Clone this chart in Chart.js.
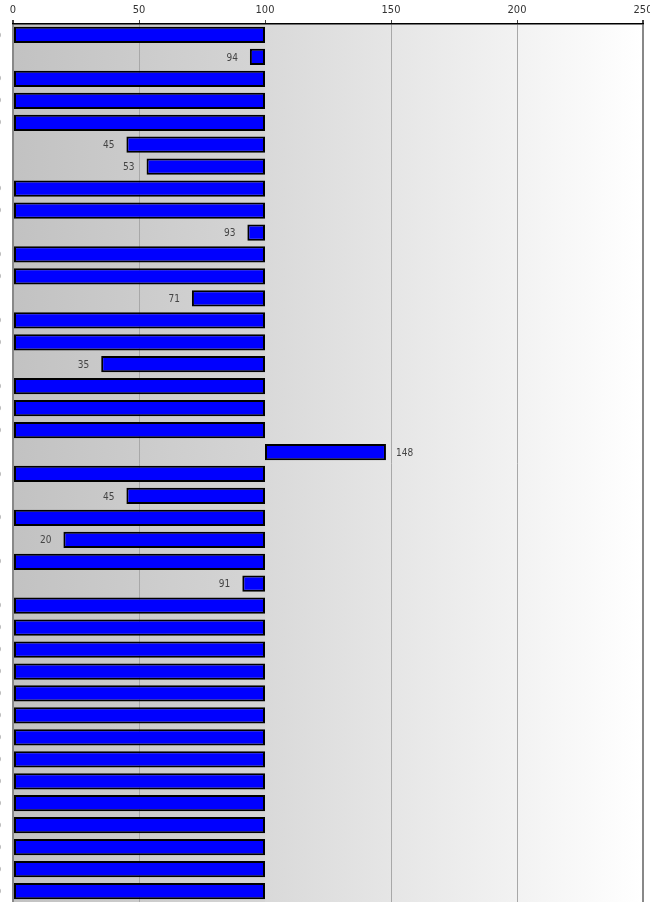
<!DOCTYPE html>
<html>
<head>
<meta charset="UTF-8">
<title>Index chart</title>
<style>
    body { margin: 0; background: #ffffff; }
    .wrap { width: 650px; height: 902px; position: relative; }
</style>
</head>
<body>
<div class="wrap"><canvas id="chart"></canvas></div>
<script src="https://cdn.jsdelivr.net/npm/chart.js@4.4.3/dist/chart.umd.min.js"></script>
<script>
// 40 rows, each bar runs from its value to the base of 100
const categories = Array.from({ length: 40 }, (_, i) => 'R' + (i + 1));
const values = [
    0, 94, 0, 0, 0, 45, 53, 0, 0, 93,
    0, 0, 71, 0, 0, 35, 0, 0, 0, 148,
    0, 45, 0, 20, 0, 91, 0, 0, 0, 0,
    0, 0, 0, 0, 0, 0, 0, 0, 0, 0
];
const baseValue = 100;
const xTicks = [0, 50, 100, 150, 200, 250];

const FONT = '"DejaVu Sans Condensed", "DejaVu Sans", sans-serif';

// background bands: darker grey up to the base, fading to white after it
const bandPlugin = {
    id: 'bands',
    beforeDraw(chart) {
        const { ctx, chartArea: a, scales: { x } } = chart;
        const xb = x.getPixelForValue(baseValue);
        ctx.save();
        let g = ctx.createLinearGradient(a.left, 0, xb, 0);
        g.addColorStop(0, '#c2c2c2');
        g.addColorStop(1, '#d5d5d5');
        ctx.fillStyle = g;
        ctx.fillRect(a.left, a.top, xb - a.left, a.bottom - a.top);
        g = ctx.createLinearGradient(xb, 0, a.right, 0);
        g.addColorStop(0, '#d9d9d9');
        g.addColorStop(1, '#ffffff');
        ctx.fillStyle = g;
        ctx.fillRect(xb, a.top, a.right - xb, a.bottom - a.top);
        ctx.restore();
    }
};

// value labels next to the free end of each bar
const labelPlugin = {
    id: 'valueLabels',
    afterDatasetsDraw(chart) {
        const { ctx, scales: { x } } = chart;
        const meta = chart.getDatasetMeta(0);
        ctx.save();
        ctx.font = '10px ' + FONT;
        ctx.fillStyle = '#444444';
        ctx.textBaseline = 'middle';
        meta.data.forEach((bar, i) => {
            const v = values[i];
            const px = x.getPixelForValue(v);
            if (v < baseValue) {
                ctx.textAlign = 'right';
                ctx.fillText(String(v), px - 12, bar.y + 1);
            } else {
                ctx.textAlign = 'left';
                ctx.fillText(String(v), px + 10, bar.y + 1);
            }
        });
        ctx.restore();
    }
};

new Chart(document.getElementById('chart'), {
    type: 'bar',
    data: {
        labels: categories,
        datasets: [{
            data: values.map(v => [v, baseValue]),
            backgroundColor: '#0000ff',
            borderColor: '#000000',
            borderWidth: 2,
            borderSkipped: false,
            barPercentage: 0.74,
            categoryPercentage: 1
        }]
    },
    options: {
        indexAxis: 'y',
        responsive: true,
        maintainAspectRatio: false,
        animation: false,
        layout: { padding: { left: 13, right: 7, top: 0, bottom: 0 } },
        plugins: {
            legend: { display: false },
            tooltip: { enabled: false }
        },
        scales: {
            x: {
                position: 'top',
                min: 0,
                max: 250,
                afterBuildTicks(scale) {
                    scale.ticks = xTicks.map(v => ({ value: v }));
                },
                afterFit(scale) {
                    scale.height = 24;
                    scale.paddingLeft = 0;
                    scale.paddingRight = 0;
                },
                ticks: {
                    color: '#333333',
                    padding: 3,
                    maxRotation: 0,
                    font: { family: FONT, size: 11 }
                },
                border: { display: true, color: '#000000', width: 1.5 },
                grid: {
                    tickLength: 4,
                    tickColor: '#444444',
                    color: ctx => {
                        const v = ctx.tick ? ctx.tick.value : null;
                        if (v === 100) return 'rgba(0,0,0,0)';
                        if (v === 0 || v === 250) return '#888888';
                        return '#a8a8a8';
                    },
                    lineWidth: ctx => {
                        const v = ctx.tick ? ctx.tick.value : null;
                        return (v === 0 || v === 250) ? 2 : 1;
                    }
                }
            },
            y: {
                display: false,
                grid: { display: false }
            }
        }
    },
    plugins: [bandPlugin, labelPlugin]
});
</script>
</body>
</html>
